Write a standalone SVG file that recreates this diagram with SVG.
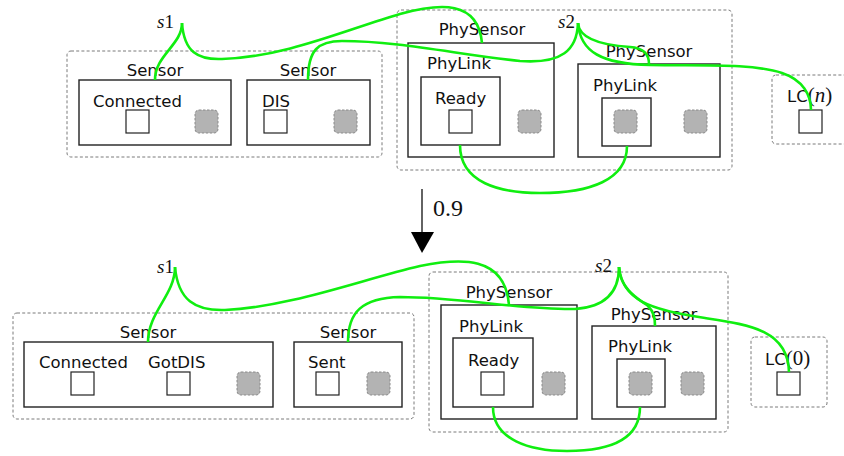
<svg xmlns="http://www.w3.org/2000/svg" width="844" height="456" viewBox="0 0 844 456">
<style>
.grp{fill:none;stroke:#7a7a7a;stroke-width:1;stroke-dasharray:3,2.2}
.box{fill:#fff;stroke:#222;stroke-width:1.4}
.sq{fill:#fff;stroke:#222;stroke-width:1.2}
.gsq{fill:#b3b3b3;stroke:#8a8a8a;stroke-width:1;stroke-dasharray:2.5,1.5}
.lbl{font-family:"DejaVu Sans",sans-serif;font-size:16.5px;fill:#111}
.mid{text-anchor:middle}
.ser{font-family:"Liberation Serif","DejaVu Serif",serif;font-size:19px;fill:#111}
.big{font-size:21px}
.it{font-style:italic}
.wire{fill:none;stroke:#10ee10;stroke-width:2.6}
</style>
<rect width="844" height="456" fill="#fff"/>

<!-- ===== TOP STATE ===== -->
<g id="top-s1-group">
<rect class="grp" x="67" y="51" width="315" height="106" rx="4"/>
<g id="top-sensor1">
<rect class="box" x="79" y="80" width="152" height="65"/>
<text class="lbl mid" x="155" y="76">Sensor</text>
<text class="lbl" x="93" y="107">Connected</text>
<rect class="sq" x="126" y="110" width="23" height="23"/>
<rect class="gsq" x="195" y="110" width="23" height="23" rx="4"/>
</g>
<g id="top-sensor2">
<rect class="box" x="247" y="80" width="123" height="65"/>
<text class="lbl mid" x="308" y="76">Sensor</text>
<text class="lbl" x="262" y="107">DIS</text>
<rect class="sq" x="264" y="110" width="23" height="23"/>
<rect class="gsq" x="334" y="110" width="23" height="23" rx="4"/>
</g>
<text class="ser" x="157" y="28"><tspan class="it">s</tspan>1</text>
</g>

<g id="top-s2-group">
<rect class="grp" x="397" y="10" width="335" height="160" rx="4"/>
<g id="top-physensor1">
<rect class="box" x="408" y="43" width="146" height="114"/>
<text class="lbl mid" x="482" y="35">PhySensor</text>
<text class="lbl" x="427" y="69">PhyLink</text>
<rect class="box" x="421" y="77" width="79" height="68"/>
<text class="lbl" x="435" y="104">Ready</text>
<rect class="sq" x="449" y="110" width="23" height="23"/>
<rect class="gsq" x="518" y="110" width="23" height="23" rx="4"/>
</g>
<g id="top-physensor2">
<rect class="box" x="578" y="64" width="142" height="93"/>
<text class="lbl mid" x="649" y="57">PhySensor</text>
<text class="lbl" x="593" y="91">PhyLink</text>
<rect class="box" x="602" y="98" width="49" height="48"/>
<rect class="gsq" x="614" y="110" width="23" height="23" rx="4"/>
<rect class="gsq" x="684" y="110" width="23" height="23" rx="4"/>
</g>
<text class="ser" x="558" y="28"><tspan class="it">s</tspan>2</text>
</g>

<g id="top-lc">
<rect class="grp" x="772" y="75" width="90" height="69" rx="4"/>
<text x="787" y="102"><tspan class="lbl">LC</tspan><tspan class="ser big">(<tspan class="it">n</tspan>)</tspan></text>
<rect class="sq" x="799" y="110" width="23" height="23"/>
</g>

<!-- ===== TRANSITION ===== -->
<g id="transition">
<line x1="422" y1="189" x2="422" y2="233" stroke="#222" stroke-width="1.4"/>
<polygon points="411,232 434,232 422,253" fill="#000"/>
<text class="ser" x="433" y="216" style="font-size:24px">0.9</text>
</g>

<!-- ===== BOTTOM STATE ===== -->
<g id="bot-s1-group">
<rect class="grp" x="13" y="313" width="401" height="106" rx="4"/>
<g id="bot-sensor1">
<rect class="box" x="24" y="342" width="249" height="65"/>
<text class="lbl mid" x="148" y="338">Sensor</text>
<text class="lbl" x="39" y="368">Connected</text>
<text class="lbl" x="148" y="368">GotDIS</text>
<rect class="sq" x="71" y="372" width="23" height="23"/>
<rect class="sq" x="167" y="372" width="23" height="23"/>
<rect class="gsq" x="237" y="372" width="23" height="23" rx="4"/>
</g>
<g id="bot-sensor2">
<rect class="box" x="294" y="342" width="108" height="65"/>
<text class="lbl mid" x="348" y="338">Sensor</text>
<text class="lbl" x="308" y="368">Sent</text>
<rect class="sq" x="316" y="372" width="23" height="23"/>
<rect class="gsq" x="367" y="372" width="23" height="23" rx="4"/>
</g>
<text class="ser" x="157" y="273"><tspan class="it">s</tspan>1</text>
</g>

<g id="bot-s2-group">
<rect class="grp" x="429" y="272" width="299" height="160" rx="4"/>
<g id="bot-physensor1">
<rect class="box" x="441" y="305" width="136" height="114"/>
<text class="lbl mid" x="509" y="298">PhySensor</text>
<text class="lbl" x="459" y="332">PhyLink</text>
<rect class="box" x="453" y="338" width="80" height="69"/>
<text class="lbl" x="468" y="366">Ready</text>
<rect class="sq" x="481" y="372" width="23" height="23"/>
<rect class="gsq" x="542" y="372" width="23" height="23" rx="4"/>
</g>
<g id="bot-physensor2">
<rect class="box" x="592" y="326" width="124" height="93"/>
<text class="lbl mid" x="654" y="320">PhySensor</text>
<text class="lbl" x="608" y="352">PhyLink</text>
<rect class="box" x="617" y="359" width="48" height="48"/>
<rect class="gsq" x="629" y="372" width="23" height="23" rx="4"/>
<rect class="gsq" x="681" y="372" width="23" height="23" rx="4"/>
</g>
<text class="ser" x="595" y="272"><tspan class="it">s</tspan>2</text>
</g>

<g id="bot-lc">
<rect class="grp" x="751" y="337" width="76" height="70" rx="4"/>
<text x="765" y="365"><tspan class="lbl">LC</tspan><tspan class="ser big">(0)</tspan></text>
<rect class="sq" x="777" y="372" width="23" height="23"/>
</g>

<!-- ===== CONNECTORS ===== -->
<g id="connectors">
<path class="wire" d="M182,23 C182,45 155,55 155,80"/>
<path class="wire" d="M182,23 C184,52 198,60 222,59 C285,57 345,30 400,14 C440,3 478,0 482,43"/>
<path class="wire" d="M308,80 C308,50 318,41 342,41 C400,41 460,55 520,61 C562,64 577,50 578,23"/>
<path class="wire" d="M578,23 C579,38 600,45 630,47 C645,48 649,55 649,64"/>
<path class="wire" d="M578,23 C580,52 602,64 650,65 C700,66 752,63 782,73 C803,80 811,95 811,110"/>
<path class="wire" d="M460,145 C460,183 500,193 540,193 C590,193 627,180 627,146"/>

<path class="wire" d="M175,267 C175,295 148,312 148,342"/>
<path class="wire" d="M175,267 C178,300 195,311 225,310 C290,307 360,280 420,266 C460,258 505,255 509,305"/>
<path class="wire" d="M348,342 C348,312 362,298 400,297 C460,297 520,310 575,309 C605,307 619,292 619,267"/>
<path class="wire" d="M619,267 C620,290 640,300 648,306 C654,312 655,318 655,326"/>
<path class="wire" d="M619,267 C622,300 650,310 705,318 C750,325 788,330 789,372"/>
<path class="wire" d="M493,407 C493,440 530,451 567,451 C610,451 640,440 640,407"/>
</g>
</svg>
